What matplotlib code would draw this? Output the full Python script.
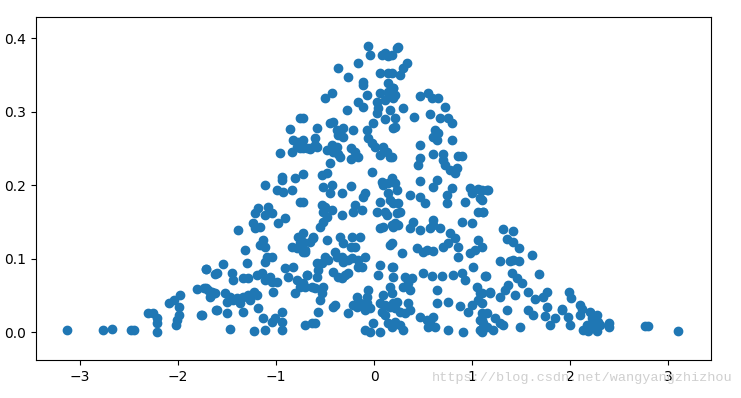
import matplotlib
matplotlib.use('Agg')
import matplotlib.pyplot as plt

# points, grouped roughly left to right
x_left = [-3.13, -2.77, -2.67, -2.48, -2.45, -2.31, -2.26, -2.22, -2.22, -2.22,
          -2.09, -2.04, -1.98, -1.99, -1.99, -2.01, -2.02, -1.81, -1.72, -1.66,
          -1.72, -1.77, -1.62, -1.61]
y_left = [0.003, 0.003, 0.004, 0.003, 0.003, 0.026, 0.026, 0.019, 0.012, 0.0,
          0.039, 0.044, 0.05, 0.034, 0.023, 0.016, 0.01, 0.058, 0.06, 0.05,
          0.086, 0.023, 0.079, 0.03]

x_midleft = [-0.76, -0.86, -0.83, -0.78, -0.79, -0.84, -0.76, -0.96, -0.65, -0.58,
             -0.94, -0.94, -0.81, -1.11, -0.99, -0.93, -0.84, -0.76, -1.18, -1.21,
             -1.08, -1.04, -1.11, -0.91, -0.98, -1.24, -1.21, -1.16, -1.39, -0.78,
             -0.76, -0.84, -0.79, -1.13, -1.16, -1.11, -1.32, -0.62, -0.70, -1.09,
             -1.04, -1.11, -1.30, -1.54, -1.72, -1.60, -1.45, -1.44, -1.34, -1.29,
             -1.19, -1.14, -1.11, -1.06, -1.04, -0.99, -0.91, -0.83, -0.88, -0.79,
             -0.76, -0.81, -0.68, -1.74, -1.65, -1.62, -1.67, -1.69, -1.52, -1.47,
             -1.44, -1.50, -1.40, -1.37, -1.34, -1.29, -1.27, -1.23, -1.19, -1.76,
             -1.60, -1.50, -1.34, -1.18, -1.03, -0.94, -1.01, -1.13, -1.04, -0.94,
             -0.94, -1.47, -1.23, -1.11]
y_midleft = [0.291, 0.276, 0.261, 0.259, 0.252, 0.245, 0.25, 0.244, 0.249, 0.252,
             0.211, 0.207, 0.21, 0.2, 0.193, 0.19, 0.193, 0.177, 0.169, 0.162,
             0.17, 0.162, 0.159, 0.155, 0.148, 0.148, 0.141, 0.143, 0.139, 0.129,
             0.121, 0.116, 0.114, 0.125, 0.118, 0.116, 0.112, 0.129, 0.109, 0.102,
             0.102, 0.095, 0.094, 0.093, 0.086, 0.08, 0.08, 0.071, 0.073, 0.073,
             0.078, 0.08, 0.071, 0.075, 0.068, 0.068, 0.087, 0.088, 0.075, 0.071,
             0.061, 0.053, 0.078, 0.06, 0.054, 0.053, 0.048, 0.057, 0.053, 0.048,
             0.044, 0.041, 0.046, 0.039, 0.048, 0.05, 0.044, 0.054, 0.05, 0.023,
             0.03, 0.026, 0.027, 0.033, 0.054, 0.027, 0.019, 0.019, 0.014, 0.014,
             0.003, 0.004, 0.001, 0.003]

x_center = [-0.06, 0.11, 0.08, 0.14, -0.04, 0.23, -0.16, -0.37, -0.27, 0.06,
            0.14, -0.11, -0.11, 0.14, 0.19, 0.14, 0.06, -0.43, -0.50, -0.07,
            0.03, 0.11, 0.19, -0.16, -0.11, 0.04, 0.03, -0.28, 0.16, 0.11,
            -0.73, -0.01, -0.45, -0.42, 0.19, -0.58, -0.38, -0.32, -0.21, -0.07,
            -0.06, -0.37, -0.32, -0.60, -0.60, -0.73, -0.73, -0.02, 0.01, -0.43,
            -0.38, -0.42, -0.37, -0.35, -0.65, -0.68, -0.48, -0.24, -0.19, -0.16,
            -0.24, 0.09, 0.13, 0.16, 0.06, -0.45, -0.02, -0.72, -0.53, -0.48,
            0.08, 0.09, 0.14, 0.18, -0.52, -0.43, -0.45, -0.33, -0.24, -0.09,
            -0.11, 0.14, 0.16, 0.19, 0.06, 0.03, 0.11, 0.13, -0.73, -0.53,
            -0.50, -0.43, -0.52, -0.48, -0.52, -0.19, -0.21, -0.12, -0.33, -0.55,
            0.06, 0.09, 0.18, 0.19, -0.73, -0.73, -0.62, -0.65, -0.48, -0.35,
            -0.22, -0.14, -0.32, -0.24, -0.19, 0.16, -0.73, -0.70, -0.50, -0.47,
            -0.53, -0.58, -0.40, -0.38, -0.33, -0.32, -0.27, -0.22, -0.16, -0.09,
            -0.12, -0.16, -0.57, -0.58, -0.68, -0.42, -0.37, -0.33, -0.30, -0.27,
            0.06, 0.04, 0.18, 0.19, -0.73, -0.70, -0.63, -0.60, -0.52, -0.53,
            -0.06, -0.07, 0.09, 0.16, -0.17, -0.14, -0.07, -0.04, -0.09, -0.17,
            -0.21, -0.42, -0.40, -0.55, -0.57, -0.27, 0.06, 0.11, 0.16, 0.19,
            0.08, 0.11, -0.70, -0.63, -0.60, -0.09, -0.04, -0.01, 0.06, 0.14,
            0.18]
y_center = [0.389, 0.38, 0.377, 0.376, 0.377, 0.386, 0.366, 0.359, 0.347, 0.352,
            0.352, 0.34, 0.336, 0.339, 0.332, 0.327, 0.325, 0.325, 0.318, 0.322,
            0.313, 0.316, 0.318, 0.313, 0.306, 0.305, 0.298, 0.302, 0.302, 0.29,
            0.291, 0.284, 0.284, 0.286, 0.278, 0.278, 0.275, 0.278, 0.275, 0.275,
            0.264, 0.268, 0.265, 0.264, 0.254, 0.261, 0.25, 0.257, 0.252, 0.254,
            0.252, 0.245, 0.243, 0.238, 0.25, 0.25, 0.248, 0.25, 0.245, 0.238,
            0.235, 0.252, 0.245, 0.238, 0.241, 0.23, 0.218, 0.215, 0.214, 0.216,
            0.204, 0.2, 0.203, 0.207, 0.197, 0.2, 0.189, 0.189, 0.199, 0.189,
            0.184, 0.189, 0.18, 0.175, 0.177, 0.163, 0.163, 0.159, 0.177, 0.173,
            0.17, 0.166, 0.163, 0.156, 0.15, 0.173, 0.163, 0.166, 0.159, 0.143,
            0.141, 0.143, 0.146, 0.143, 0.135, 0.122, 0.128, 0.122, 0.125, 0.129,
            0.129, 0.129, 0.121, 0.116, 0.116, 0.118, 0.109, 0.112, 0.102, 0.098,
            0.094, 0.094, 0.109, 0.102, 0.102, 0.095, 0.098, 0.101, 0.098, 0.102,
            0.088, 0.088, 0.084, 0.075, 0.078, 0.082, 0.075, 0.073, 0.078, 0.08,
            0.091, 0.078, 0.088, 0.075, 0.067, 0.061, 0.061, 0.06, 0.061, 0.053,
            0.057, 0.048, 0.05, 0.061, 0.048, 0.039, 0.039, 0.033, 0.03, 0.034,
            0.037, 0.034, 0.037, 0.044, 0.027, 0.026, 0.039, 0.037, 0.034, 0.039,
            0.027, 0.023, 0.01, 0.012, 0.012, 0.003, 0.0, 0.012, 0.0, 0.012,
            0.007]

x_midright = [0.245, 0.18, 0.34, 0.30, 0.27, 0.18, 0.19, 0.21, 0.47, 0.55,
              0.59, 0.65, 0.72, 0.30, 0.41, 0.57, 0.67, 0.76, 0.80, 0.21,
              0.21, 0.62, 0.65, 0.60, 0.64, 0.80, 0.47, 0.60, 0.70, 0.70,
              0.86, 0.90, 0.47, 0.45, 0.72, 0.78, 0.83, 0.85, 0.18, 0.18,
              0.21, 0.23, 0.47, 0.64, 0.60, 0.80, 0.74, 0.74, 0.98, 1.06,
              1.15, 1.00, 1.08, 0.93, 1.06, 1.11, 0.37, 0.47, 0.52, 0.24,
              0.27, 0.23, 0.40, 0.37, 0.47, 0.60, 0.57, 0.67, 0.60, 0.21,
              0.24, 0.90, 1.00, 0.78, 0.83, 0.76, 0.86, 0.44, 0.50, 0.60,
              0.54, 0.70, 0.18, 0.29, 1.06, 1.10, 1.03, 0.98, 0.86, 0.19,
              1.01, 0.50, 0.59, 0.69, 0.81, 0.90, 0.93, 1.13, 0.32, 0.39,
              0.35, 0.30, 0.37, 0.64, 1.05, 1.08, 1.06, 0.18, 0.23, 0.21,
              0.27, 0.35, 0.37, 0.32, 0.64, 0.76, 0.88, 1.00, 0.96, 1.10,
              1.08, 1.11, 1.15, 0.47, 0.54, 0.60, 0.57, 0.62, 0.21, 0.27,
              0.30, 0.76, 0.91, 1.08, 0.55]
y_midright = [0.388, 0.377, 0.366, 0.359, 0.35, 0.352, 0.332, 0.322, 0.321, 0.325,
              0.318, 0.318, 0.306, 0.305, 0.292, 0.297, 0.291, 0.291, 0.284, 0.291,
              0.279, 0.275, 0.271, 0.265, 0.261, 0.261, 0.254, 0.243, 0.243, 0.234,
              0.24, 0.24, 0.237, 0.227, 0.227, 0.22, 0.216, 0.223, 0.238, 0.21,
              0.203, 0.193, 0.205, 0.207, 0.197, 0.196, 0.186, 0.175, 0.196, 0.195,
              0.194, 0.189, 0.182, 0.177, 0.163, 0.163, 0.186, 0.184, 0.175, 0.175,
              0.163, 0.162, 0.15, 0.141, 0.139, 0.152, 0.141, 0.141, 0.146, 0.148,
              0.146, 0.15, 0.148, 0.135, 0.128, 0.121, 0.116, 0.114, 0.109, 0.11,
              0.112, 0.116, 0.121, 0.107, 0.125, 0.116, 0.112, 0.107, 0.102, 0.088,
              0.088, 0.08, 0.076, 0.076, 0.078, 0.08, 0.071, 0.076, 0.075, 0.073,
              0.067, 0.061, 0.057, 0.057, 0.061, 0.053, 0.044, 0.053, 0.041, 0.033,
              0.027, 0.039, 0.03, 0.026, 0.039, 0.041, 0.035, 0.037, 0.027, 0.026,
              0.016, 0.012, 0.007, 0.02, 0.016, 0.02, 0.012, 0.007, 0.014, 0.01,
              0.003, 0.003, 0.0, 0.003, 0.007]

x_right = [1.16, 1.10, 1.10, 1.11, 1.32, 1.42, 1.36, 1.42, 1.48, 1.61,
           1.29, 1.39, 1.48, 1.42, 1.68, 1.14, 1.41, 1.46, 1.51, 1.37,
           1.34, 1.18, 1.57, 1.44, 1.29, 1.77, 1.64, 1.72, 1.36, 1.57,
           1.62, 1.77, 1.74, 1.85, 1.92, 1.80, 1.15, 1.10, 1.10, 1.23,
           1.29, 1.21, 1.32, 1.49, 1.10, 1.10, 1.18,
           3.10, 2.77, 2.80, 2.40, 2.40, 1.99, 2.01, 1.92, 1.98, 2.00,
           2.10, 2.12, 2.10, 2.20, 2.28, 2.22, 2.29, 2.13, 2.18, 2.28,
           2.22, 2.31, 2.17]
y_right = [0.194, 0.194, 0.18, 0.163, 0.14, 0.137, 0.127, 0.122, 0.114, 0.105,
           0.097, 0.097, 0.097, 0.098, 0.079, 0.076, 0.08, 0.073, 0.067, 0.064,
           0.057, 0.054, 0.054, 0.05, 0.048, 0.054, 0.045, 0.048, 0.03, 0.03,
           0.023, 0.034, 0.022, 0.019, 0.03, 0.01, 0.026, 0.016, 0.0, 0.019,
           0.012, 0.003, 0.01, 0.007, 0.053, 0.039, 0.053,
           0.002, 0.008, 0.008, 0.012, 0.007, 0.054, 0.046, 0.031, 0.02, 0.01,
           0.037, 0.031, 0.023, 0.027, 0.023, 0.019, 0.014, 0.003, 0.001, 0.001,
           0.007, 0.01, 0.01]

x = x_left + x_midleft + x_center + x_midright + x_right
y = y_left + y_midleft + y_center + y_midright + y_right

fig = plt.figure(figsize=(7.41, 3.98), dpi=100)
ax = fig.add_axes([0.0486, 0.0955, 0.911, 0.8615])
ax.scatter(x, y)
ax.set_xlim(-3.45, 3.44)
ax.set_ylim(-0.038, 0.4286)

# csdn watermark, drawn over the tick labels like in the source image
fig.text(0.583, 0.05, 'https://blog.csdn.net/wangyangzhizhou', family='Liberation Mono',
         fontsize=9.7, color='#cfcfcf', va='center', zorder=0)

fig.savefig('out.png', dpi=100)
